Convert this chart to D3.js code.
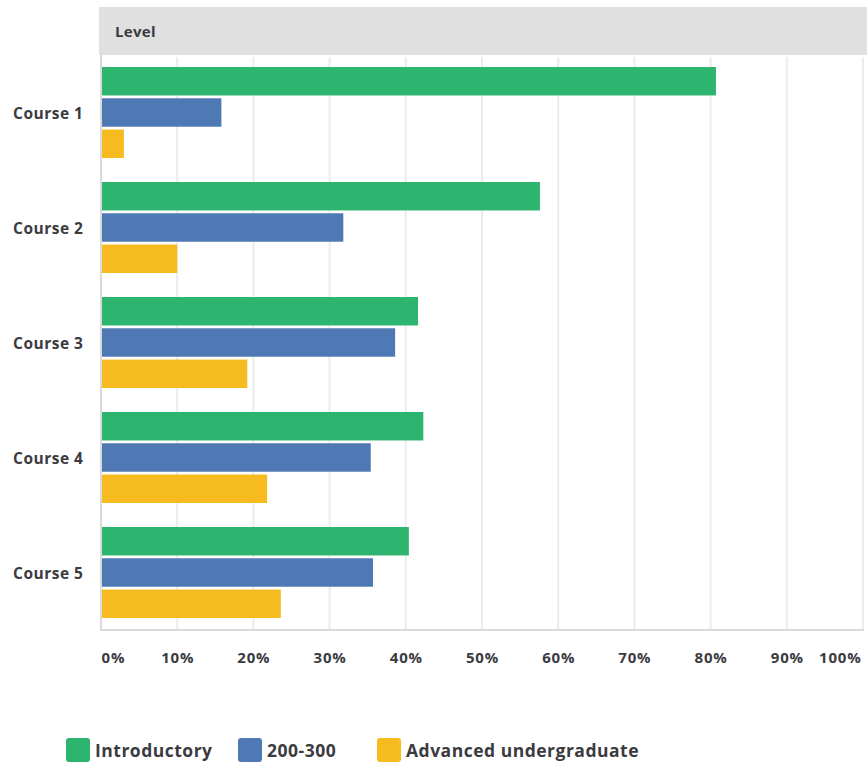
<!DOCTYPE html>
<html>
<head>
<meta charset="utf-8">
<script src="https://cdn.jsdelivr.net/npm/d3@7"></script>
<style>
  html, body { margin: 0; padding: 0; background: #ffffff; }
  svg { display: block; font-family: "Open Sans", "Lato", sans-serif; }
</style>
</head>
<body>
<svg id="chart" width="867" height="764"></svg>
<script>
// Courses and the share of respondents at each level
const courses = ["Course 1", "Course 2", "Course 3", "Course 4", "Course 5"];
const seriesNames = ["Introductory", "200-300", "Advanced undergraduate"];
const introductory = [80.7, 57.6, 41.6, 42.3, 40.4];
const level200300 = [15.8, 31.8, 38.6, 35.4, 35.7];
const advanced = [3.0, 10.0, 19.2, 21.8, 23.6];
const tickValues = [0, 10, 20, 30, 40, 50, 60, 70, 80, 90, 100];
const colors = ["#2db46e", "#4e79b4", "#f6bb1f"];

const seriesValues = [introductory, level200300, advanced];

const svg = d3.select("#chart");
const textColor = "#3b3b3f";
const fontStack = "'Open Sans', Lato, sans-serif";

const plot = { left: 101, right: 863, top: 55, bottom: 630 };

const x = d3.scaleLinear().domain([0, 100]).range([plot.left, plot.right]);
const y = d3.scaleBand().domain(courses).range([plot.top, plot.bottom]).padding(0);
const inner = d3.scaleBand().domain(seriesNames)
  .range([12, y.bandwidth() - 12]).paddingInner(0.09);

// header band
svg.append("rect")
  .attr("x", plot.left - 2).attr("y", 7)
  .attr("width", 867 - plot.left + 2).attr("height", plot.top - 7)
  .attr("fill", "#e0e0e0");
svg.append("text")
  .attr("x", 115).attr("y", 31)
  .attr("dominant-baseline", "central")
  .attr("font-size", 15).attr("font-weight", 700)
  .attr("letter-spacing", 0.3)
  .attr("fill", textColor)
  .text("Level");

// vertical grid lines
svg.append("g").selectAll("line")
  .data(tickValues.filter(d => d > 0))
  .join("line")
  .attr("x1", d => x(d)).attr("x2", d => x(d))
  .attr("y1", plot.top + 2).attr("y2", plot.bottom)
  .attr("stroke", "#ececec").attr("stroke-width", 2);

// frame: left and bottom edges
svg.append("path")
  .attr("d", `M${plot.left},${plot.top}V${plot.bottom}H${plot.right + 1}`)
  .attr("fill", "none").attr("stroke", "#dadada").attr("stroke-width", 2);

// bars
const rows = courses.map((c, i) => ({
  course: c,
  values: seriesNames.map((s, j) => ({ series: s, idx: j, value: seriesValues[j][i] }))
}));

const groups = svg.append("g").selectAll("g")
  .data(rows)
  .join("g")
  .attr("transform", d => `translate(0,${y(d.course)})`);

groups.selectAll("rect")
  .data(d => d.values)
  .join("rect")
  .attr("x", x(0) + 1)
  .attr("y", d => inner(d.series))
  .attr("width", d => x(d.value) - x(0) - 1)
  .attr("height", inner.bandwidth())
  .attr("fill", d => colors[d.idx]);

// category labels
svg.append("g").selectAll("text")
  .data(courses)
  .join("text")
  .attr("x", 13)
  .attr("y", d => y(d) + y.bandwidth() / 2)
  .attr("dominant-baseline", "central")
  .attr("font-size", 15.5).attr("font-weight", 700)
  .attr("letter-spacing", 0.5)
  .attr("fill", textColor)
  .text(d => d);

// x axis labels
const xAxis = d3.axisBottom(x)
  .tickValues(tickValues)
  .tickSize(0)
  .tickPadding(0)
  .tickFormat(d => d + "%");

const axisG = svg.append("g")
  .attr("transform", `translate(0,${plot.bottom + 22})`)
  .call(xAxis);
axisG.select(".domain").remove();
axisG.selectAll("text")
  .attr("font-family", fontStack)
  .attr("font-size", 15).attr("font-weight", 700)
  .attr("letter-spacing", 0.8)
  .attr("fill", textColor)
  .attr("text-anchor", d => d === 0 ? "start" : d === 100 ? "end" : "middle")
  .attr("dx", d => d === 100 ? -2 : 0);

// legend
const legendX = [66, 238, 377];
const legend = svg.append("g").selectAll("g")
  .data(seriesNames)
  .join("g")
  .attr("transform", (d, i) => `translate(${legendX[i]},738)`);
legend.append("rect")
  .attr("width", 24).attr("height", 24).attr("rx", 3)
  .attr("fill", (d, i) => colors[i]);
legend.append("text")
  .attr("x", 29).attr("y", 12)
  .attr("dominant-baseline", "central")
  .attr("font-size", 17.5).attr("font-weight", 700)
  .attr("letter-spacing", 0.5)
  .attr("fill", textColor)
  .text(d => d);
</script>
</body>
</html>
